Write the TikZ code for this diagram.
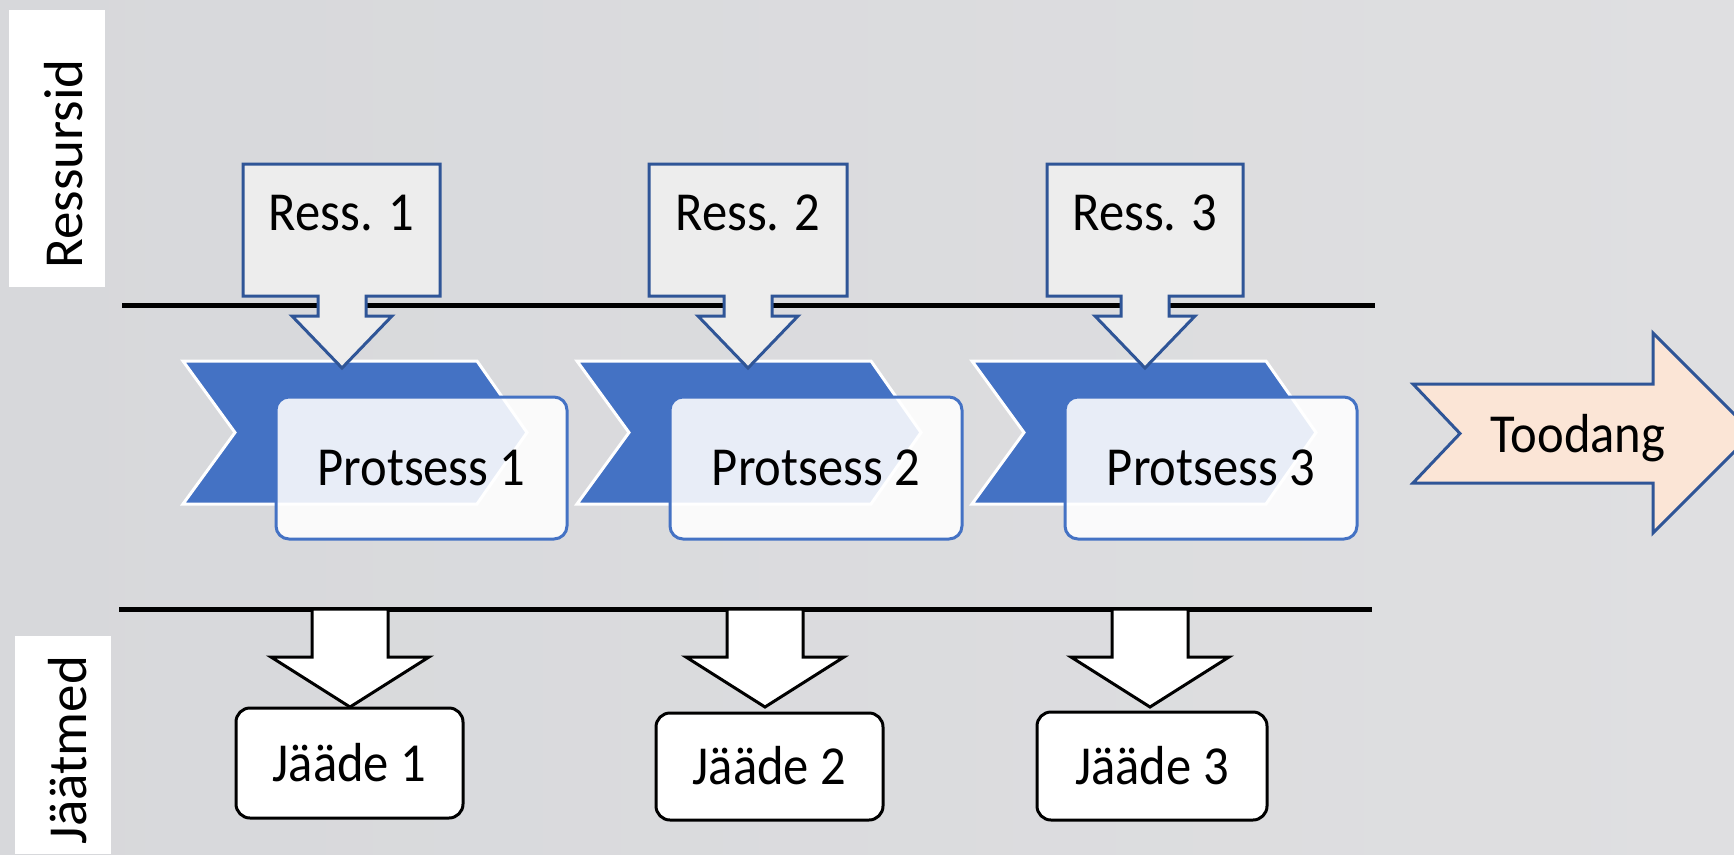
\documentclass[tikz,border=0pt]{standalone}
\usepackage{fontspec}
\setmainfont{Carlito}
\newfontfamily\hfont{Carlito}[FakeStretch=0.92]
\definecolor{bg}{RGB}{215,216,219}
\definecolor{bgr}{RGB}{223,223,225}
\definecolor{ressfill}{RGB}{237,237,237}
\definecolor{darkblue}{RGB}{47,85,151}
\definecolor{accent}{RGB}{68,114,196}
\definecolor{peach}{RGB}{251,229,214}
\begin{document}
\begin{tikzpicture}[x=1pt,y=-1pt,
  bigtext/.style={font=\hfont\fontsize{55}{60}\selectfont},
  sidetext/.style={font=\fontsize{55}{60}\selectfont, rotate=90, anchor=base, inner sep=0pt},
  rule/.style={line width=5pt, black},
  callout/.style={fill=ressfill, draw=darkblue, line width=3pt, line join=miter},
  chev/.style={fill=accent, draw=white, line width=3pt},
  procbox/.style={draw=accent, line width=3pt, fill=white, fill opacity=0.88, text opacity=1, rounded corners=13pt, text height=34pt, text depth=0pt, inner sep=0pt, bigtext},
  wastearrow/.style={fill=white, draw=black, line width=3pt},
  wastebox/.style={draw=black, line width=3pt, fill=white, rounded corners=14pt, text height=36pt, text depth=0pt, inner sep=0pt, bigtext},
  outarrow/.style={fill=peach, draw=darkblue, line width=3pt},
]
\useasboundingbox (0,0) rectangle (1734,854);
\clip (0,0) rectangle (1734,854);
\shade[left color=bg, right color=bgr] (0,0) rectangle (1734,854);

% side labels
\fill[white] (9,10) rectangle (105,287);
\node[sidetext] (ressursid) at (82,164) {Ressursid};
\fill[white] (15,636) rectangle (111,854);
\node[sidetext] (jaatmed) at (86,750) {Jäätmed};

% separator rules
\coordinate (topL) at (122,305.5);
\coordinate (topR) at (1375,305.5);
\coordinate (botL) at (119,609);
\coordinate (botR) at (1372,609);
\draw[rule] (topL) -- (topR);
\draw[rule] (botL) -- (botR);

% chevrons
\foreach \xl in {183,577,972}{
  \draw[chev] (\xl,361) -- ({\xl+294},361) -- ({\xl+344},432.5) -- ({\xl+294},504) -- (\xl,504) -- ({\xl+52},432.5) -- cycle;
}

% process boxes
\node[procbox, minimum width=291, minimum height=142] (p1) at (421.5,468) {Protsess 1};
\node[procbox, minimum width=292, minimum height=142] (p2) at (816,468) {Protsess 2};
\node[procbox, minimum width=292, minimum height=142] (p3) at (1211,468) {Protsess 3};

% resource callouts
\foreach \xa/\xb/\cx/\n in {243/440/342/1, 649/847/748/2, 1047/1243/1145/3}{
  \draw[callout] (\xa,164) -- (\xb,164) -- (\xb,296) -- ({\cx+24},296) -- ({\cx+24},316) -- ({\cx+50},316) -- (\cx,368) -- ({\cx-50},316) -- ({\cx-24},316) -- ({\cx-24},296) -- (\xa,296) -- cycle;
  \node[bigtext, anchor=base] (ress\n) at ({(\xa+\xb)/2},230) {Ress. \n};
}

% waste arrows
\foreach \cx in {350,765,1150}{
  \draw[wastearrow] ({\cx-38},609) -- ({\cx+38},609) -- ({\cx+38},657) -- ({\cx+79},657) -- (\cx,707) -- ({\cx-79},657) -- ({\cx-38},657) -- cycle;
}

% waste boxes
\node[wastebox, minimum width=227, minimum height=110] (j1) at (349.5,763) {Jääde 1};
\node[wastebox, minimum width=227, minimum height=107] (j2) at (769.5,766.5) {Jääde 2};
\node[wastebox, minimum width=230, minimum height=108] (j3) at (1152,766) {Jääde 3};

% output arrow
\draw[outarrow] (1413,384) -- (1653,384) -- (1653,333) -- (1753,433) -- (1653,533) -- (1653,483) -- (1413,483) -- (1460,433.5) -- cycle;
\node[bigtext, anchor=base] (toodang) at (1578,452) {Toodang};
\end{tikzpicture}
\end{document}
